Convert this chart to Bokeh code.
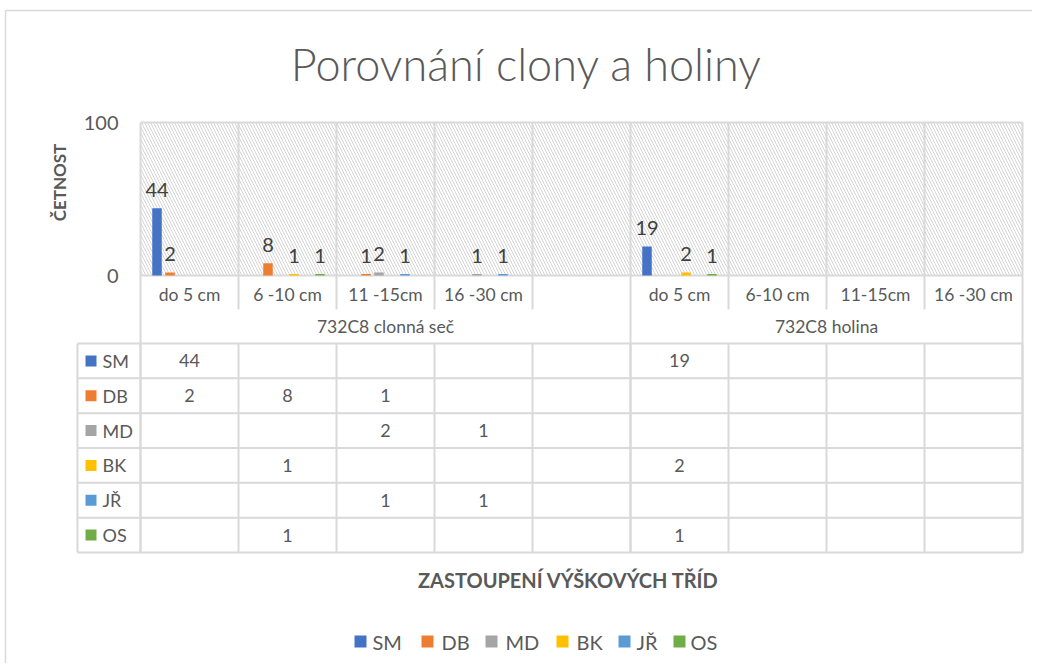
import math
from bokeh.plotting import figure
from bokeh.models import Range1d
from bokeh.core.properties import value
from bokeh.embed import file_html
from bokeh.resources import INLINE

# ---------------- data ----------------
title_text = "Porovnání clony  a holiny"
groups = ["732C8 clonná seč", "732C8 holina"]
group_sizes = [5, 4]
categories = ["do 5 cm", "6 -10 cm", "11 -15cm", "16 -30 cm", "",
              "do 5 cm", "6-10 cm", "11-15cm", "16 -30 cm"]
series_names = ["SM", "DB", "MD", "BK", "JŘ", "OS"]
series_colors = ["#4472C4", "#ED7D31", "#A5A5A5", "#FFC000", "#5B9BD5", "#70AD47"]
SM = [44, None, None, None, None, 19, None, None, None]
DB = [2, 8, 1, None, None, None, None, None, None]
MD = [None, None, 2, 1, None, None, None, None, None]
BK = [None, 1, None, None, None, 2, None, None, None]
JR = [None, None, 1, 1, None, None, None, None, None]
OS = [None, 1, None, None, None, 1, None, None, None]
series_values = [SM, DB, MD, BK, JR, OS]
y_ticks = [0, 100]
y_title = "ČETNOST"
x_title = "ZASTOUPENÍ VÝŠKOVÝCH TŘÍD"

# ---------------- layout (reference pixel coords) ----------------
W, H = 1032, 663
OX, OY = 0, 0
PL, PR, PT, PB = 140, 1022, 122, 275
YMAX = 100
ncat = len(categories)
catw = (PR - PL) / ncat
ys = (PB - PT) / YMAX
TAB_L, TAB_T, TAB_B = 77, 343, 552
row_h = (TAB_B - TAB_T) / len(series_names)
FONT = value("Lato")
GRID = "#d9d9d9"
TXT = "#595959"

p = figure(width=W, height=H, output_backend="svg", toolbar_location=None,
           x_range=Range1d((OX - PL) / catw, (OX + W - PL) / catw),
           y_range=Range1d(-(OY + H - PB) / ys, (PB - OY) / ys),
           x_axis_type=None, y_axis_type=None, min_border=0,
           outline_line_color=None, background_fill_color="white",
           border_fill_color="white")
p.extra_x_ranges = {"px": Range1d(OX, OX + W)}
p.extra_y_ranges = {"px": Range1d(OY + H, OY)}

# chart border (top, left)
p.segment(x0=[5, 5], y0=[10, 10], x1=[OX + W, 5], y1=[10, OY + H], line_color=GRID,
          line_width=1.5, x_range_name="px", y_range_name="px")

# hatched plot area
p.quad(left=[0], right=[ncat], bottom=[0], top=[YMAX], fill_color=None,
       hatch_pattern="\\", hatch_color="#d4d4d4", hatch_scale=6, hatch_weight=1,
       line_color=None)

# grid lines in plot
p.segment(x0=[0, 0], y0=[YMAX, 0], x1=[ncat, ncat], y1=[YMAX, 0],
          line_color=GRID, line_width=2)
bounds = list(range(ncat + 1))
p.segment(x0=bounds, y0=[0] * len(bounds), x1=bounds, y1=[YMAX] * len(bounds),
          line_color=GRID, line_width=2)
grp_bounds = [0]
for s in group_sizes:
    grp_bounds.append(grp_bounds[-1] + s)
inner = [b for b in bounds if b not in grp_bounds]
p.segment(x0=inner, y0=[PB] * len(inner), x1=inner, y1=[309] * len(inner),
          line_color=GRID, line_width=2, y_range_name="px")
p.segment(x0=grp_bounds, y0=[PB] * len(grp_bounds), x1=grp_bounds, y1=[TAB_B] * len(grp_bounds),
          line_color=GRID, line_width=2, y_range_name="px")
# table grid
nrows = len(series_names)
hy = [TAB_T + k * row_h for k in range(nrows + 1)]
p.segment(x0=[TAB_L] * len(hy), y0=hy, x1=[PR] * len(hy), y1=hy,
          line_color=GRID, line_width=2, x_range_name="px", y_range_name="px")
p.segment(x0=[TAB_L], y0=[TAB_T], x1=[TAB_L], y1=[TAB_B],
          line_color=GRID, line_width=2, x_range_name="px", y_range_name="px")
p.segment(x0=bounds, y0=[TAB_T] * len(bounds), x1=bounds, y1=[TAB_B] * len(bounds),
          line_color=GRID, line_width=2, y_range_name="px")

# bars
slot = 13 / catw
barw = 9.5 / catw
nser = len(series_names)
for j, (name, vals, col) in enumerate(zip(series_names, series_values, series_colors)):
    xs = [i + 0.5 + (j - (nser - 1) / 2) * slot for i in range(ncat)]
    tops = [float("nan") if v is None else v for v in vals]
    p.vbar(x=xs, top=tops, bottom=0, width=barw, fill_color=col, line_color=None)
    lx = [x for x, v in zip(xs, vals) if v is not None]
    lv = [v for v in vals if v is not None]
    p.text(x=lx, y=lv, text=[str(v) for v in lv], y_offset=-18,
           text_align="center", text_baseline="alphabetic",
           text_font=FONT, text_font_size="20px", text_color="#404040")

# y tick labels
p.text(x=[118] * len(y_ticks), y=y_ticks, text=[str(t) for t in y_ticks],
       text_align="right", text_baseline="middle", text_font=FONT,
       text_font_size="20px", text_color=TXT, x_range_name="px")

# category labels
p.text(x=[i + 0.5 for i in range(ncat)], y=[294] * ncat, text=categories,
       text_align="center", text_baseline="middle", text_font=FONT,
       text_font_size="17.5px", text_color=TXT, y_range_name="px")
gcent = [(grp_bounds[k] + grp_bounds[k + 1]) / 2 for k in range(len(groups))]
p.text(x=gcent, y=[326] * len(groups), text=groups,
       text_align="center", text_baseline="middle", text_font=FONT,
       text_font_size="17.5px", text_color=TXT, y_range_name="px")

# data table
KEY = 11
for r, (name, vals, col) in enumerate(zip(series_names, series_values, series_colors)):
    cy = TAB_T + (r + 0.5) * row_h
    xs = [i + 0.5 for i, v in enumerate(vals) if v is not None]
    tv = [str(v) for v in vals if v is not None]
    p.text(x=xs, y=[cy] * len(xs), text=tv, text_align="center",
           text_baseline="middle", text_font=FONT, text_font_size="18px",
           text_color=TXT, y_range_name="px")
    p.quad(left=[85], right=[85 + KEY], top=[cy - KEY / 2], bottom=[cy + KEY / 2],
           fill_color=col, line_color=None, x_range_name="px", y_range_name="px")
    p.text(x=[102], y=[cy], text=[name], text_align="left", text_baseline="middle",
           text_font=FONT, text_font_size="18px", text_color=TXT,
           x_range_name="px", y_range_name="px")

# titles
p.text(x=[532], y=[63], text=[title_text], text_align="center", text_baseline="middle",
       text_font=value("Lato Light, Lato"), text_font_size="45px", text_color=TXT,
       x_range_name="px", y_range_name="px")
p.text(x=[59], y=[182], text=[y_title], angle=math.pi / 2, text_align="center",
       text_baseline="middle", text_font=FONT, text_font_style="bold",
       text_font_size="17px", text_color=TXT, x_range_name="px", y_range_name="px")
p.text(x=[568], y=[579], text=[x_title], text_align="center", text_baseline="middle",
       text_font=FONT, text_font_style="bold", text_font_size="20px", text_color=TXT,
       x_range_name="px", y_range_name="px")

# legend
leg_sq_x = [354, 421, 485, 556, 618, 673]
leg_tx_x = [372, 441, 505, 576, 636, 690]
LEG_Y = 641
LK = 12
p.quad(left=leg_sq_x, right=[x + LK for x in leg_sq_x], top=[LEG_Y - LK / 2] * nser,
       bottom=[LEG_Y + LK / 2] * nser, fill_color=series_colors, line_color=None,
       x_range_name="px", y_range_name="px")
p.text(x=leg_tx_x, y=[LEG_Y] * nser, text=series_names, text_align="left",
       text_baseline="middle", text_font=FONT, text_font_size="20px", text_color=TXT,
       x_range_name="px", y_range_name="px")

open("out.html", "w").write(file_html(p, INLINE))
